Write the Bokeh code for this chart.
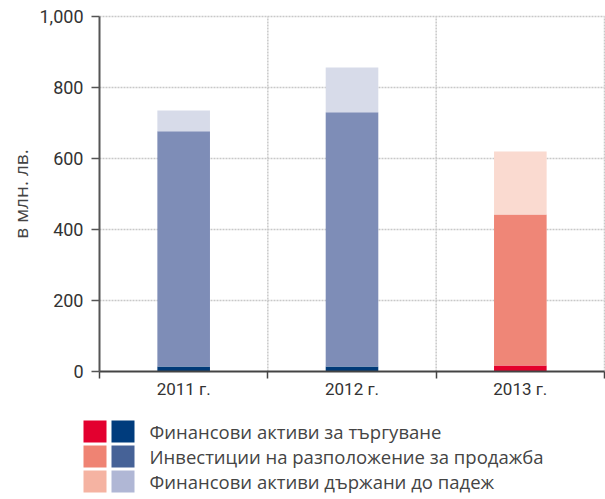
import numpy as np
from bokeh.plotting import figure
from bokeh.models import ColumnDataSource, FixedTicker, NumeralTickFormatter, Range1d
from bokeh.core.properties import value
from bokeh.embed import file_html
from bokeh.resources import INLINE

# ---- data ----
years = ["2011 г.", "2012 г.", "2013 г."]
trading = [14, 14, 17]
available_for_sale = [663, 716, 425]
held_to_maturity = [58, 126, 178]

trading_colors = ["#003A78", "#003A78", "#E4002B"]
afs_colors = ["#7E8DB7", "#7E8DB7", "#EF8677"]
htm_colors = ["#D7DBE9", "#D7DBE9", "#FADAD0"]

legend_labels = ["Финансови активи за търгуване",
                 "Инвестиции на разположение за продажба",
                 "Финансови активи държани до падеж"]
legend_red = ["#E3002F", "#EF8373", "#F5B3A2"]
legend_blue = ["#003C7D", "#466297", "#B0B7D5"]

y_ticks = [0, 200, 400, 600, 800, 1000]
y_label = "в млн. лв."

FONT = "Roboto"
LFONT = "Open Sans"

# ---- layout constants (pixels) ----
W, H = 605, 499
AX_LEFT, AX_RIGHT = 99, 604      # x pixel of category 0 and category n
AX_TOP, AX_BOTTOM = 16, 371      # y pixel of 1000 and 0
n = len(years)
YMAX = y_ticks[-1]
sx = (AX_RIGHT - AX_LEFT) / n
sy = (AX_BOTTOM - AX_TOP) / YMAX
x_range = Range1d(-AX_LEFT / sx, (W - AX_LEFT) / sx)
y_range = Range1d(-(H - AX_BOTTOM) / sy, YMAX + AX_TOP / sy)

# ---- main chart ----
x = np.arange(n) + 0.5
t = np.array(trading, dtype=float)
a = np.array(available_for_sale, dtype=float)
h = np.array(held_to_maturity, dtype=float)

src = ColumnDataSource(dict(
    x=x,
    b0=np.zeros(n), t0=t,
    b1=t, t1=t + a,
    b2=t + a, t2=t + a + h,
    c0=trading_colors, c1=afs_colors, c2=htm_colors,
))

p = figure(width=W, height=H, output_backend="svg", toolbar_location=None,
           x_range=x_range, y_range=y_range,
           min_border=0, min_border_left=0, min_border_right=0,
           min_border_top=0, min_border_bottom=0)
p.outline_line_color = None
p.background_fill_color = "white"
p.border_fill_color = "white"
p.xgrid.visible = False
p.ygrid.visible = False

# dotted grid lines, derived from tick positions
gx = np.arange(1, n + 1, dtype=float)
p.segment(x0=gx, x1=gx, y0=np.zeros(len(gx)), y1=np.full(len(gx), YMAX),
          line_color="#C8C8C8", line_dash="2 1", line_width=1.5)
gy = np.array(y_ticks[1:], dtype=float)
p.segment(x0=np.zeros(len(gy)), x1=np.full(len(gy), n), y0=gy, y1=gy,
          line_color="#C8C8C8", line_dash="2 1", line_width=1.5)

bw = 0.3125
p.vbar(x="x", bottom="b0", top="t0", width=bw, fill_color="c0", line_color=None, source=src)
p.vbar(x="x", bottom="b1", top="t1", width=bw, fill_color="c1", line_color=None, source=src)
p.vbar(x="x", bottom="b2", top="t2", width=bw, fill_color="c2", line_color=None, source=src)

# x axis: labels at centres, ticks at boundaries, drawn at y = 0
xa = p.xaxis[0]
xa.fixed_location = 0
xa.bounds = (0, n)
xa.ticker = FixedTicker(ticks=list(x), minor_ticks=list(range(n + 1)))
xa.major_label_overrides = {float(xx): lab for xx, lab in zip(x, years)}
xa.major_tick_out = 0
xa.major_tick_in = 0
xa.minor_tick_out = 7
xa.minor_tick_in = 0
xa.minor_tick_line_color = "#444444"
xa.minor_tick_line_width = 1.5
xa.axis_line_color = "#444444"
xa.axis_line_width = 2
xa.major_label_text_font = FONT
xa.major_label_text_font_size = "17px"
xa.major_label_text_color = "#333333"
xa.major_label_standoff = 0

ya = p.yaxis[0]
ya.fixed_location = 0
ya.bounds = (0, YMAX)
ya.ticker = FixedTicker(ticks=y_ticks)
ya.formatter = NumeralTickFormatter(format="0,0")
ya.minor_tick_line_color = None
ya.major_tick_out = 8
ya.major_tick_in = 0
ya.major_tick_line_color = "#555555"
ya.major_tick_line_width = 1.5
ya.axis_line_color = "#555555"
ya.axis_line_width = 2
ya.major_label_text_font = FONT
ya.major_label_text_font_size = "18px"
ya.major_label_text_color = "#333333"
ya.major_label_standoff = 8
ya.axis_label = y_label
ya.axis_label_text_font = LFONT
ya.axis_label_text_font_size = "19px"
ya.axis_label_text_font_style = "normal"
ya.axis_label_text_color = "#444444"
ya.axis_label_standoff = 2

# ---- legend (pixel coordinates via extra ranges) ----
p.extra_x_ranges = {"px": Range1d(0, W)}
p.extra_y_ranges = {"px": Range1d(H, 0)}

rows = np.arange(len(legend_labels))
size = 22
pitch = 25
top0 = 420
tops = top0 + rows * pitch
lsrc = ColumnDataSource(dict(
    top=tops, bottom=tops + size,
    l1=np.full(len(rows), 83), r1=np.full(len(rows), 83 + size + 1),
    l2=np.full(len(rows), 111), r2=np.full(len(rows), 111 + size + 1),
    c_red=legend_red, c_blue=legend_blue,
    tx=np.full(len(rows), 149), ty=tops + size / 2, label=legend_labels,
))
p.quad(left="l1", right="r1", top="top", bottom="bottom", fill_color="c_red", line_color=None,
       source=lsrc, x_range_name="px", y_range_name="px")
p.quad(left="l2", right="r2", top="top", bottom="bottom", fill_color="c_blue", line_color=None,
       source=lsrc, x_range_name="px", y_range_name="px")
p.text(x="tx", y="ty", text="label", text_baseline="middle", text_align="left",
       text_font=value(LFONT), text_font_size="18.5px", text_color="#444444",
       source=lsrc, x_range_name="px", y_range_name="px")

open("out.html", "w").write(file_html(p, INLINE))
